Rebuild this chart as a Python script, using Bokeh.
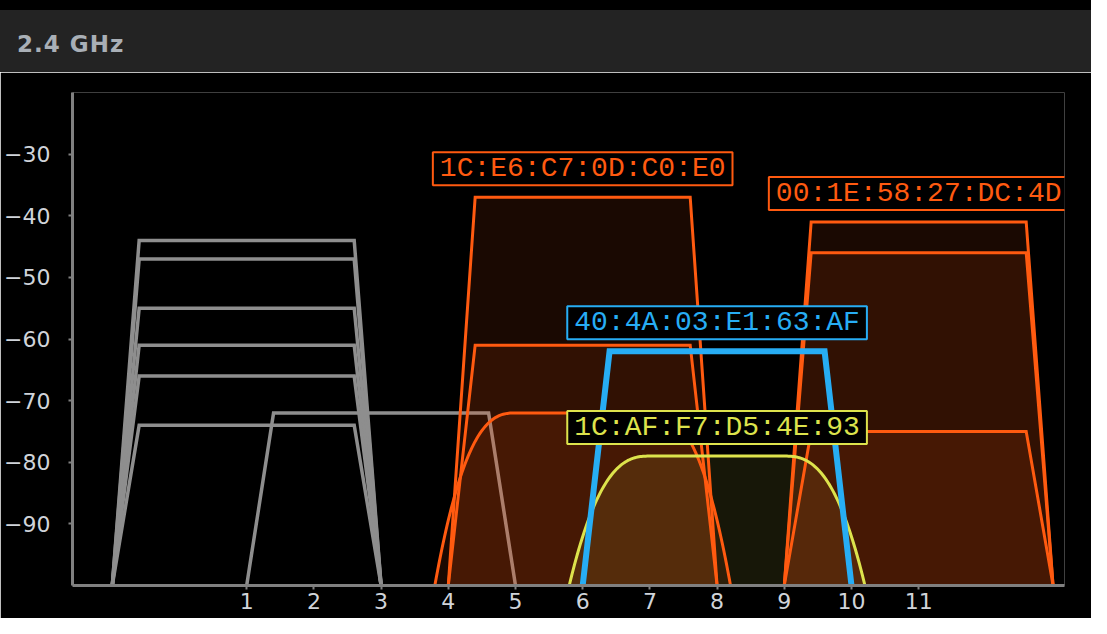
import numpy as np
from bokeh.plotting import figure
from bokeh.models import Div, Label, FixedTicker, Range1d
from bokeh.layouts import column
from bokeh.embed import file_html
from bokeh.resources import INLINE

# ---------------- data ----------------
band_title = "2.4 GHz"
bssids = ["", "", "", "", "", "", "",
          "1C:E6:C7:0D:C0:E0", "", "",
          "40:4A:03:E1:63:AF", "1C:AF:F7:D5:4E:93",
          "00:1E:58:27:DC:4D", "", ""]
channels = [1, 1, 1, 1, 1, 1, 3, 6, 6, 6, 8, 8, 11, 11, 11]
signals = [-44, -47, -55, -61, -66, -74, -72, -37, -61, -72, -62, -79, -41, -46, -75]
mask = ["flat", "flat", "flat", "flat", "flat", "flat", "flat",
        "flat", "flat", "round", "flat", "round", "flat", "flat", "flat"]
group = ["other", "other", "other", "other", "other", "other", "other",
         "tracked", "tracked", "tracked", "selected", "highlight",
         "tracked", "tracked", "tracked"]
x_ticks = [1, 2, 3, 4, 5, 6, 7, 8, 9, 10, 11]
y_ticks = [-90, -80, -70, -60, -50, -40, -30]
noise_floor = -100
y_top = -20

# ---------------- styles ----------------
STYLE = {
    "other": dict(color="#8e8e8e", width=3.5, fill=0.0),
    "tracked": dict(color="#ff5a10", width=3, fill=0.10),
    "selected": dict(color="#27adf4", width=6, fill=0.0),
    "highlight": dict(color="#dde34c", width=3, fill=0.10),
}


def outline(ch, sig, kind):
    if kind == "flat":
        offs = [-2.0, -1.6, 1.6, 2.0]
        return [ch + o for o in offs], [noise_floor, sig, sig, noise_floor]
    t = np.linspace(0.0, 1.0, 60)
    d0, d1 = 1.0, 2.2
    d = d0 + t * (d1 - d0)
    drop = (sig - noise_floor) * t ** 2.6
    xs = list(ch - d[::-1]) + list(ch + d)
    ys = list(sig - drop[::-1]) + list(sig - drop)
    return xs, ys


shapes = [outline(c, s, k) for c, s, k in zip(channels, signals, mask)]

p = figure(width=1091, height=546,
           x_range=Range1d(-1.592, 13.17), y_range=Range1d(noise_floor, y_top),
           output_backend="svg", toolbar_location=None,
           background_fill_color="black", border_fill_color="black",
           min_border_left=72, min_border_right=27,
           min_border_top=20, min_border_bottom=33, margin=0)
p.outline_line_color = None
p.grid.visible = False

# gray networks (under the fills)
idx_o = [i for i, g in enumerate(group) if g == "other"]
p.multi_line(xs=[shapes[i][0] for i in idx_o], ys=[shapes[i][1] for i in idx_o],
             line_color=STYLE["other"]["color"], line_width=STYLE["other"]["width"],
             line_join="miter")

# fills
idx_f = [i for i, g in enumerate(group) if STYLE[g]["fill"] > 0]
p.patches(xs=[shapes[i][0] for i in idx_f], ys=[shapes[i][1] for i in idx_f],
          fill_color=[STYLE[group[i]]["color"] for i in idx_f],
          fill_alpha=[STYLE[group[i]]["fill"] for i in idx_f],
          line_alpha=0)

# coloured outlines
for g in ["tracked", "highlight", "selected"]:
    idx = [i for i, gg in enumerate(group) if gg == g]
    p.multi_line(xs=[shapes[i][0] for i in idx], ys=[shapes[i][1] for i in idx],
                 line_color=STYLE[g]["color"], line_width=STYLE[g]["width"],
                 line_join="miter")

# labels
for i, name in enumerate(bssids):
    if not name:
        continue
    col = STYLE[group[i]]["color"]
    p.add_layout(Label(x=channels[i], y=signals[i], text=name,
                       text_align="center", text_baseline="bottom", y_offset=12,
                       text_font="Liberation Mono", text_font_size="28px",
                       text_color=col, background_fill_color="black",
                       border_line_color=col, border_line_width=2,
                       padding=(7, 1)))

for ax in (p.xaxis[0], p.yaxis[0]):
    ax.axis_line_color = "#808080"
    ax.axis_line_width = 3
    ax.major_tick_line_color = "#808080"
    ax.major_tick_line_width = 2
    ax.major_tick_out = 4
    ax.major_tick_in = 0
    ax.minor_tick_out = 0
    ax.minor_tick_in = 0
    ax.major_label_text_color = "#d0d4da"
    ax.major_label_text_font = "DejaVu Sans"
    ax.major_label_text_font_size = "22px"

p.xaxis.ticker = FixedTicker(ticks=x_ticks)
p.yaxis.ticker = FixedTicker(ticks=y_ticks)
p.xaxis.major_label_standoff = 3
p.yaxis.major_label_standoff = 18

header = Div(text='<div style="padding:28px 0 0 17px; font-family:\'DejaVu Sans\'; '
                  'font-weight:bold; font-size:23px; letter-spacing:1px; color:#a9afb6;">'
                  + band_title + '</div>',
             width=1091, height=72, margin=0,
             styles={"background": "linear-gradient(#000000 0px, #000000 10px, #232323 10px)",
                     "overflow": "hidden"})

layout = column(header, p, spacing=0, margin=0)
open("out.html", "w").write(file_html(layout, INLINE))
